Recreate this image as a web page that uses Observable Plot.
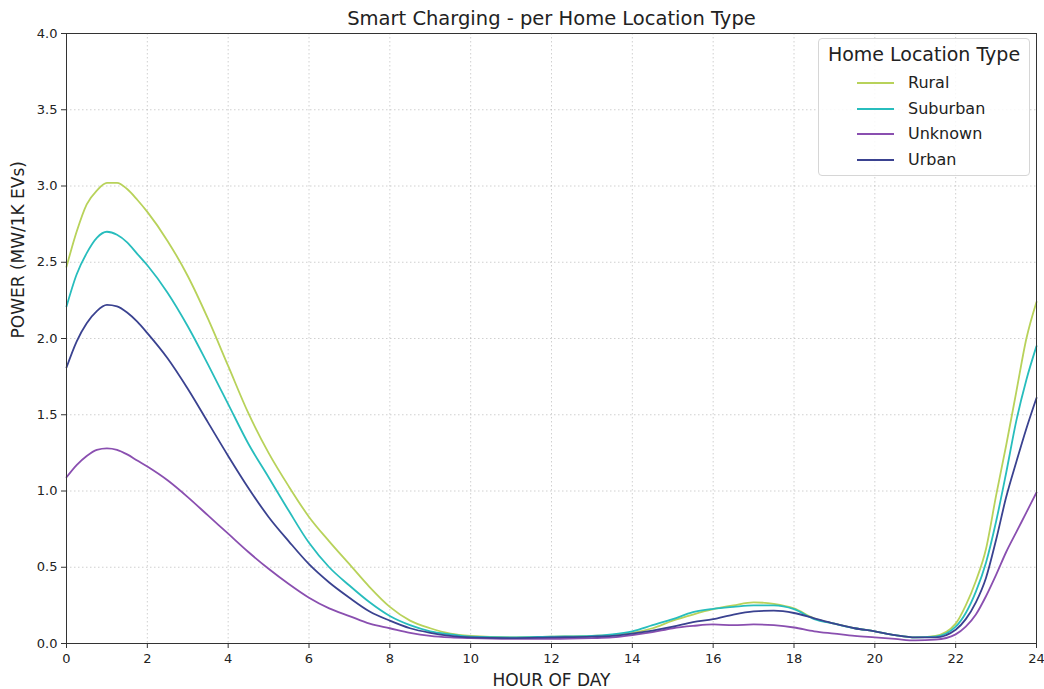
<!DOCTYPE html>
<html>
<head>
<meta charset="utf-8">
<script src="https://cdn.jsdelivr.net/npm/d3@7"></script>
<script src="https://cdn.jsdelivr.net/npm/@observablehq/plot@0.6"></script>
<style>
  html, body { margin: 0; padding: 0; background: #fff; }
  #wrap { position: relative; width: 1044px; height: 689px; font-family: "DejaVu Sans", sans-serif; }
  #legend { position: absolute; left: 818px; top: 38px; width: 212px; height: 138px;
    border: 1px solid #d6d6d6; border-radius: 4px; background: rgba(255,255,255,0.85); box-sizing: border-box; }
  #legend .ttl { position: absolute; left: 0; width: 100%; top: 4px; text-align: center; font-size: 19px; color: #222; }
  #legend .item { position: absolute; left: 38px; height: 20px; font-size: 16px; color: #222; }
  #legend .item span.sw { position: absolute; left: 0; top: 9px; width: 37px; height: 0; border-top: 2px solid; }
  #legend .item span.lb { position: absolute; left: 51px; top: 0; white-space: nowrap; }
</style>
</head>
<body>
<div id="wrap"></div>
<script>
const title = "Smart Charging - per Home Location Type";
const xLabel = "HOUR OF DAY";
const yLabel = "POWER (MW/1K EVs)";
const legendTitle = "Home Location Type";
const categories = ["Rural", "Suburban", "Unknown", "Urban"];
const colors = ["#b8d25a", "#27bdbd", "#8a4fb0", "#3a4290"];
const xTicks = [0, 2, 4, 6, 8, 10, 12, 14, 16, 18, 20, 22, 24];
const yTicks = [0, 0.5, 1, 1.5, 2, 2.5, 3, 3.5, 4];

const hours = [0,0.25,0.5,0.75,1,1.25,1.5,1.75,2,
  2.5,3,3.5,4,4.5,5,5.5,6,6.5,7,7.5,8,8.5,9,9.5,10,
  11,12,13,
  13.5,14,14.5,15,15.5,16,16.5,17,17.5,18,18.5,19,19.5,20,20.5,21,21.5,22,
  22.25,22.5,22.75,23,23.25,23.5,23.75,24];

const rural = [2.47,2.70,2.88,2.97,3.02,3.02,2.98,2.91,2.83,
  2.64,2.41,2.13,1.82,1.51,1.25,1.03,0.83,0.67,0.52,0.37,0.24,0.15,0.10,0.065,0.05,
  0.04,0.045,0.05,
  0.055,0.07,0.10,0.15,0.19,0.225,0.25,0.27,0.26,0.23,0.165,0.13,0.10,0.08,0.055,0.04,0.05,0.13,
  0.25,0.41,0.62,0.97,1.30,1.65,2.00,2.24];
const suburban = [2.21,2.42,2.56,2.66,2.70,2.68,2.63,2.555,2.48,
  2.30,2.08,1.83,1.57,1.31,1.09,0.87,0.66,0.50,0.38,0.27,0.18,0.12,0.08,0.06,0.045,
  0.04,0.045,0.05,
  0.06,0.08,0.12,0.16,0.205,0.227,0.24,0.25,0.25,0.225,0.16,0.13,0.10,0.08,0.055,0.04,0.045,0.11,
  0.20,0.34,0.53,0.80,1.12,1.46,1.73,1.95];
const unknown = [1.09,1.17,1.23,1.27,1.28,1.27,1.24,1.20,1.16,
  1.07,0.96,0.84,0.72,0.60,0.49,0.39,0.30,0.23,0.18,0.13,0.10,0.07,0.05,0.04,0.035,
  0.03,0.03,0.035,
  0.04,0.055,0.075,0.10,0.115,0.125,0.12,0.125,0.12,0.105,0.08,0.065,0.05,0.04,0.03,0.02,0.025,0.06,
  0.11,0.19,0.31,0.45,0.60,0.73,0.86,0.99];
const urban = [1.81,1.98,2.10,2.18,2.22,2.21,2.17,2.11,2.035,
  1.87,1.67,1.45,1.23,1.02,0.83,0.67,0.52,0.40,0.30,0.21,0.15,0.10,0.07,0.05,0.04,
  0.035,0.04,0.045,
  0.05,0.065,0.085,0.11,0.14,0.16,0.19,0.21,0.215,0.20,0.165,0.13,0.10,0.08,0.055,0.04,0.04,0.09,
  0.16,0.27,0.43,0.68,0.96,1.19,1.41,1.61];

const seriesValues = [rural, suburban, unknown, urban];
const data = [];
categories.forEach((c, i) => {
  hours.forEach((h, j) => data.push({type: c, hour: h, value: seriesValues[i][j]}));
});

const chart = Plot.plot({
  width: 1044,
  height: 689,
  marginTop: 33,
  marginLeft: 66,
  marginRight: 8,
  marginBottom: 46,
  style: { fontFamily: "DejaVu Sans, sans-serif", background: "#fff", color: "#222" },
  x: { domain: [0, 24] },
  y: { domain: [0, 4] },
  color: { domain: categories, range: colors },
  marks: [
    Plot.gridX(xTicks, { stroke: "#b0b0b0", strokeOpacity: 0.6, strokeDasharray: "1.5,2.5" }),
    Plot.gridY(yTicks, { stroke: "#b0b0b0", strokeOpacity: 0.6, strokeDasharray: "1.5,2.5" }),
    Plot.line(data, { x: "hour", y: "value", z: "type", stroke: "type", strokeWidth: 1.8, curve: "monotone-x" }),
    Plot.frame({ stroke: "#333", strokeWidth: 1 }),
    Plot.axisX(xTicks, { tickSize: 5, tickPadding: 5, fontSize: 13, label: null, stroke: "#333" }),
    Plot.axisY(yTicks, { tickSize: 5, tickPadding: 4, fontSize: 13, label: null, tickFormat: d3.format(".1f"), stroke: "#333" }),
    Plot.text([title], { text: d => d, frameAnchor: "top", lineAnchor: "middle", dy: -15, fontSize: 19.5, fill: "#222" }),
    Plot.text([xLabel], { text: d => d, frameAnchor: "bottom", lineAnchor: "middle", dy: 37, fontSize: 17, fill: "#222" }),
    Plot.text([yLabel], { text: d => d, frameAnchor: "left", dx: -48, rotate: -90, fontSize: 17, fill: "#222" })
  ]
});

const wrap = document.getElementById("wrap");
wrap.appendChild(chart);

const lg = document.createElement("div");
lg.id = "legend";
const t = document.createElement("div");
t.className = "ttl";
t.textContent = legendTitle;
lg.appendChild(t);
categories.forEach((c, i) => {
  const it = document.createElement("div");
  it.className = "item";
  it.style.top = (34 + i * 25.5) + "px";
  const sw = document.createElement("span");
  sw.className = "sw";
  sw.style.borderTopColor = colors[i];
  const lb = document.createElement("span");
  lb.className = "lb";
  lb.textContent = c;
  it.appendChild(sw);
  it.appendChild(lb);
  lg.appendChild(it);
});
wrap.appendChild(lg);
</script>
</body>
</html>
